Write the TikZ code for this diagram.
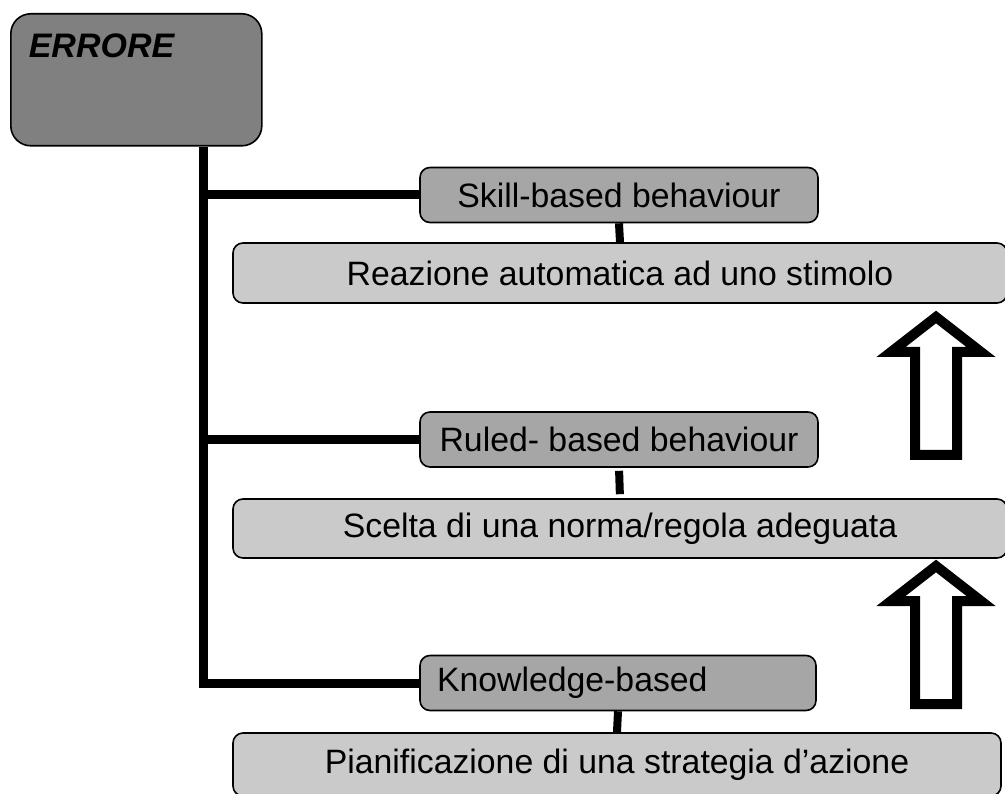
\documentclass[tikz,border=0pt]{standalone}
\usepackage{graphicx,xcolor}
\usepackage{fontspec}
\setmainfont{Liberation Sans}
\usetikzlibrary{positioning}
\definecolor{errgray}{RGB}{128,128,128}
\definecolor{levgray}{RGB}{166,166,166}
\definecolor{descgray}{RGB}{202,202,202}
\newcommand{\boxtext}{\fontsize{33.8}{38}\selectfont}
\newcommand{\spinewidth}{9pt}
\newcommand{\arrowshape}{(-21,0) -- (21,0) -- (21,-103) -- (45,-103) -- (0,-138) -- (-45,-103) -- (-21,-103) -- cycle}

\begin{document}
\begin{tikzpicture}[x=1pt, y=-1pt,
	every node/.style={draw=black, line width=1.6pt, inner sep=0pt, font=\boxtext},
	errbox/.style={fill=errgray, rounded corners=20pt, minimum width=251pt, minimum height=132pt},
	levbox/.style={fill=levgray, rounded corners=10pt, minimum width=398pt, minimum height=55pt},
	descbox/.style={fill=descgray, rounded corners=10pt, minimum width=774pt, minimum height=60pt},
	trunk/.style={line width=\spinewidth},
	stem/.style={line width=8pt},
	blockarrow/.style={line width=10pt, fill=white, miter limit=20}]
	% The frame:
	\useasboundingbox (0,0) rectangle (1005,794);
	\clip (0,0) rectangle (1005,794);
	% Root:
	\node[errbox, anchor=north west] (errore) at (10,13) {};
	\node[draw=none, anchor=base west, font=\fontsize{34}{38}\selectfont\bfseries\itshape] (errlabel) at (28,58) {ERRORE};
	% Levels:
	\node[levbox] (skill) at (619,195) {Skill-based behaviour};
	\node[levbox] (ruled) at (619,439.5) {Ruled- based behaviour};
	\node[levbox, minimum width=396pt, text width=362pt, align=left] (know) at (618,683) {Knowledge-based};
	% Descriptions:
	\node[descbox] (reaz) at (620,273) {Reazione automatica ad uno stimolo};
	\node[descbox, minimum height=59pt] (scelta) at (620,528.5) {Scelta di una norma/regola adeguata};
	\node[descbox, minimum width=768pt, minimum height=63pt] (pian) at (617,764.5) {Pianificazione di una strategia d’azione};
	% Spine and branches:
	\coordinate (spine) at (203.5,0);
	\draw[trunk] (errore.south -| spine) |- (know.west);
	\draw[trunk] (spine |- skill.west) -- (skill.west);
	\draw[trunk] (spine |- ruled.west) -- (ruled.west);
	\draw[stem] (skill.south) -- (reaz.north);
	\draw[stem, shorten <=3pt, shorten >=4pt] (ruled.south) -- (scelta.north);
	\draw[stem] (know.south) -- (pian.north);
	% Upward arrows:
	\draw[blockarrow, shift={(936,455)}] \arrowshape;
	\draw[blockarrow, shift={(936,704)}] \arrowshape;
\end{tikzpicture}
\end{document}
